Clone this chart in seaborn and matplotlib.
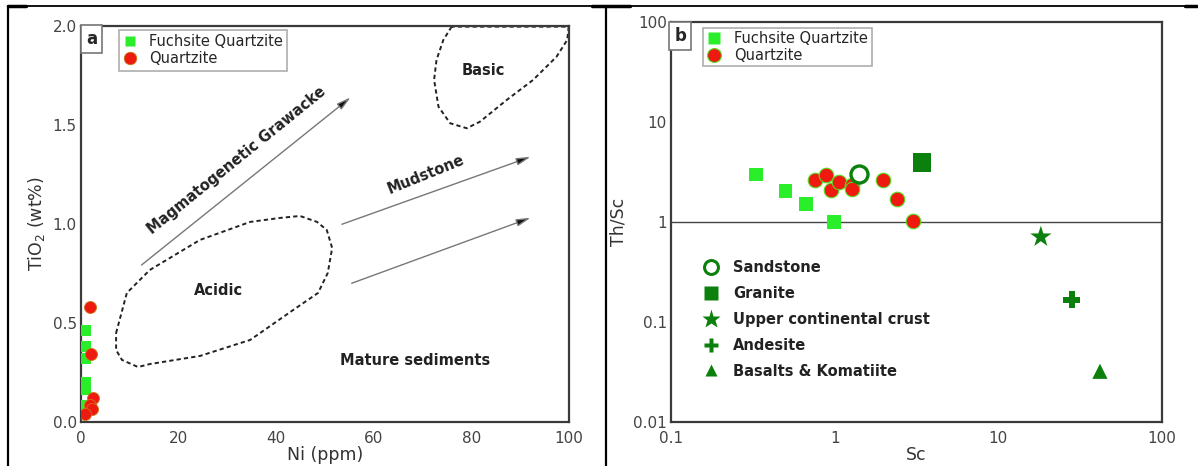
import numpy as np
import pandas as pd
import matplotlib
matplotlib.use("Agg")
import matplotlib.pyplot as plt
from matplotlib.lines import Line2D
import seaborn as sns

sns.set_theme(style="white")
plt.rcParams['font.family'] = ['DejaVu Sans']

# ---------------- data: panel a ----------------
fq_a_ni = [1.0, 1.0, 1.0, 1.0, 1.0, 1.0]
fq_a_ti = [0.46, 0.38, 0.32, 0.20, 0.16, 0.08]
q_a_ni = [1.9, 2.0, 2.4, 1.9, 2.2, 0.9]
q_a_ti = [0.58, 0.34, 0.12, 0.085, 0.063, 0.04]

acidic_ni = [7.2, 9.4, 14.1, 24.4, 34.7, 40.8, 44.9, 48.4, 50.4, 51.5, 50.6, 48.6,
             43.5, 34.7, 24.4, 14.1, 11.7, 8.4, 7.2, 7.2]
acidic_ti = [0.448, 0.650, 0.766, 0.918, 1.009, 1.029, 1.039, 1.009, 0.968, 0.877,
             0.751, 0.650, 0.564, 0.413, 0.332, 0.291, 0.276, 0.312, 0.362, 0.448]
basic_ni = [76.0, 74.3, 72.9, 72.4, 73.3, 75.7, 79.1, 81.8, 87.3, 92.7, 97.5, 99.7,
            100.0, 76.0]
basic_ti = [1.995, 1.928, 1.827, 1.726, 1.591, 1.507, 1.482, 1.515, 1.625, 1.726,
            1.843, 1.928, 1.995, 1.995]

arrow_start_ni = [12.4, 53.5, 55.5]
arrow_start_ti = [0.791, 0.997, 0.699]
arrow_end_ni = [55.3, 92.2, 92.2]
arrow_end_ti = [1.638, 1.338, 1.030]

# ---------------- data: panel b ----------------
fq_b_sc = [0.33, 0.50, 0.67, 0.99]
fq_b_thsc = [3.0, 2.04, 1.51, 1.0]
q_b_sc = [0.76, 0.89, 0.95, 1.06, 1.28, 1.28, 1.97, 2.40, 3.01]
q_b_thsc = [2.63, 2.97, 2.12, 2.53, 2.33, 2.14, 2.61, 1.69, 1.03]

ref_names = ["Sandstone", "Granite", "Upper continental crust", "Andesite",
             "Basalts & Komatiite"]
ref_sc = [1.41, 3.41, 18.2, 28.1, 41.8]
ref_thsc = [3.0, 3.95, 0.71, 0.166, 0.032]
ref_markers = ["o", "s", "*", "P", "^"]

FQ = "#2bee2b"
QR = "#ee1a10"
DG = "#0c800c"
SP = "#3a3a3a"
TK = "#444444"

fig = plt.figure(figsize=(11.98, 4.66), dpi=100)
fig.patch.set_facecolor("white")
axa = fig.add_axes([0.0676, 0.0951, 0.4071, 0.8498])
axb = fig.add_axes([0.5601, 0.0951, 0.4098, 0.8567])

# outer table frame
fig.add_artist(Line2D([8 / 1198, 1197 / 1198], [1 - 5.5 / 466] * 2, color="black", lw=1.3))
fig.add_artist(Line2D([8.3 / 1198] * 2, [0, 1 - 5.5 / 466], color="black", lw=1.6))
fig.add_artist(Line2D([605.7 / 1198] * 2, [0, 1 - 5.5 / 466], color="black", lw=1.6))
fig.add_artist(Line2D([8 / 1198, 26 / 1198], [1 - 5.5 / 466] * 2, color="black", lw=2.5))
fig.add_artist(Line2D([592 / 1198, 630 / 1198], [1 - 5.5 / 466] * 2, color="black", lw=2.5))
fig.add_artist(Line2D([1185 / 1198, 1197 / 1198], [1 - 5.5 / 466] * 2, color="black", lw=2.5))

# ---------------- panel a ----------------
dfa_fq = pd.DataFrame({"Ni": fq_a_ni, "TiO2": fq_a_ti})
dfa_q = pd.DataFrame({"Ni": q_a_ni, "TiO2": q_a_ti})
sns.scatterplot(data=dfa_fq, x="Ni", y="TiO2", ax=axa, marker="s", s=60, color=FQ,
                edgecolor="none", linewidth=0, zorder=3)
sns.scatterplot(data=dfa_q, x="Ni", y="TiO2", ax=axa, marker="o", s=75, color=QR,
                edgecolor="#c8781a", linewidth=0.6, zorder=4)

axa.plot(acidic_ni, acidic_ti, ls=(0, (2.2, 1.6)), color="#222222", lw=1.4, zorder=2)
axa.plot(basic_ni, basic_ti, ls=(0, (2.2, 1.6)), color="#222222", lw=1.4, zorder=2,
         clip_on=False)
for x0, y0, x1, y1 in zip(arrow_start_ni, arrow_start_ti, arrow_end_ni, arrow_end_ti):
    axa.annotate("", xy=(x1, y1), xytext=(x0, y0),
                 arrowprops=dict(arrowstyle="-|>,head_length=0.7,head_width=0.18",
                                 color="#777777", lw=1.0, shrinkA=0, shrinkB=0,
                                 fc="#111111", ec="#777777"))

axa.text(32.0, 1.32, "Magmatogenetic Grawacke", rotation=39, ha="center", va="center",
         fontsize=10.5, fontweight="bold", color="#222222", rotation_mode="anchor")
axa.text(70.7, 1.246, "Mudstone", rotation=22, ha="center", va="center",
         fontsize=10.5, fontweight="bold", color="#222222", rotation_mode="anchor")
axa.text(28.1, 0.665, "Acidic", ha="center", va="center", fontsize=10.5,
         fontweight="bold", color="#222222")
axa.text(82.4, 1.776, "Basic", ha="center", va="center", fontsize=10.5,
         fontweight="bold", color="#222222")
axa.text(68.5, 0.311, "Mature sediments", ha="center", va="center", fontsize=10.5,
         fontweight="bold", color="#222222")

axa.set_xlim(0, 100)
axa.set_ylim(0, 2.0)
axa.set_xticks([0, 20, 40, 60, 80, 100])
axa.set_yticks([0.0, 0.5, 1.0, 1.5, 2.0])
axa.set_yticklabels(["0.0", "0.5", "1.0", "1.5", "2.0"])
axa.set_xlabel("Ni (ppm)", fontsize=12.5, color="#333333", labelpad=0)
axa.set_ylabel("TiO$_2$ (wt%)", fontsize=12.5, color="#333333", labelpad=4)

legend_a = [Line2D([], [], marker="s", ls="none", color=FQ, markersize=7.5, mec="none",
                   label="Fuchsite Quartzite"),
            Line2D([], [], marker="o", ls="none", color=QR, markersize=9, mec="#c8781a",
                   mew=0.6, label="Quartzite")]
leg = axa.legend(handles=legend_a, loc="upper left", bbox_to_anchor=(0.077, 0.99),
                 frameon=True, fancybox=False, fontsize=10.5, handlelength=1.0,
                 handletextpad=0.8, borderpad=0.3, labelspacing=0.15,
                 borderaxespad=0.0)
leg.get_frame().set_edgecolor("#999999")
leg.get_frame().set_linewidth(1.2)
axa.text(0.0105, 0.988, "a", transform=axa.transAxes, ha="left", va="top",
         fontsize=12, fontweight="bold",
         bbox=dict(boxstyle="square,pad=0.3", fc="white", ec="#777777", lw=1.2))

# ---------------- panel b ----------------
dfb_fq = pd.DataFrame({"Sc": fq_b_sc, "ThSc": fq_b_thsc})
dfb_q = pd.DataFrame({"Sc": q_b_sc, "ThSc": q_b_thsc})
axb.set_xscale("log")
axb.set_yscale("log")
axb.axhline(1.0, color="#444444", lw=1.0, zorder=1)
sns.scatterplot(data=dfb_fq, x="Sc", y="ThSc", ax=axb, marker="s", s=95, color=FQ,
                edgecolor="none", linewidth=0, zorder=3)
sns.scatterplot(data=dfb_q, x="Sc", y="ThSc", ax=axb, marker="o", s=110, color=QR,
                edgecolor="#55dd22", linewidth=0.8, zorder=4)

ref_df = pd.DataFrame({"Sc": ref_sc, "ThSc": ref_thsc, "Type": ref_names})
for name, mk in zip(ref_names, ref_markers):
    sub = ref_df[ref_df["Type"] == name]
    if mk == "o":
        sns.scatterplot(data=sub, x="Sc", y="ThSc", ax=axb, marker="o", s=150,
                        facecolor="white", edgecolor=DG, linewidth=2.4, zorder=5)
    elif mk == "s":
        sns.scatterplot(data=sub, x="Sc", y="ThSc", ax=axb, marker="s", s=170,
                        color=DG, edgecolor="none", linewidth=0, zorder=5)
    elif mk == "*":
        sns.scatterplot(data=sub, x="Sc", y="ThSc", ax=axb, marker="*", s=260,
                        color=DG, edgecolor="none", linewidth=0, zorder=5)
    elif mk == "P":
        sns.scatterplot(data=sub, x="Sc", y="ThSc", ax=axb, marker="P", s=150,
                        color=DG, edgecolor="none", linewidth=0, zorder=5)
    else:
        sns.scatterplot(data=sub, x="Sc", y="ThSc", ax=axb, marker="^", s=120,
                        color=DG, edgecolor="none", linewidth=0, zorder=5)

axb.set_xlim(0.1, 100)
axb.set_ylim(0.01, 100)
axb.set_xticks([0.1, 1, 10, 100])
axb.set_xticklabels(["0.1", "1", "10", "100"])
axb.set_yticks([0.01, 0.1, 1, 10, 100])
axb.set_yticklabels(["0.01", "0.1", "1", "10", "100"])
axb.minorticks_off()
axb.set_xlabel("Sc", fontsize=12.5, color="#333333", labelpad=0)
axb.set_ylabel("Th/Sc", fontsize=12.5, color="#333333", labelpad=4)

legend_b = [Line2D([], [], marker="s", ls="none", color=FQ, markersize=8.5, mec="none",
                   label="Fuchsite Quartzite"),
            Line2D([], [], marker="o", ls="none", color=QR, markersize=10, mec="#55dd22",
                   mew=0.8, label="Quartzite")]
legb = axb.legend(handles=legend_b, loc="upper left", bbox_to_anchor=(0.065, 0.987),
                  frameon=True, fancybox=False, fontsize=10.5, handlelength=1.0,
                  handletextpad=0.9, borderpad=0.25, labelspacing=0.1,
                  borderaxespad=0.0)
legb.get_frame().set_edgecolor("#999999")
legb.get_frame().set_linewidth(1.2)
axb.add_artist(legb)

ref_handles = [
    Line2D([], [], marker="o", ls="none", mfc="white", mec=DG, mew=2.2, markersize=10),
    Line2D([], [], marker="s", ls="none", color=DG, mec="none", markersize=10),
    Line2D([], [], marker="*", ls="none", color=DG, mec="none", markersize=14),
    Line2D([], [], marker="P", ls="none", color=DG, mec="none", markersize=10),
    Line2D([], [], marker="^", ls="none", color=DG, mec="none", markersize=9),
]
legr = axb.legend(handles=ref_handles, labels=ref_names, loc="upper left",
                  bbox_to_anchor=(0.055, 0.42), frameon=False, handlelength=1.0,
                  handletextpad=1.0, labelspacing=0.75, borderaxespad=0.0,
                  prop=dict(size=10.5, weight="bold"))
for t in legr.get_texts():
    t.set_color("#222222")

axb.text(0.007, 0.988, "b", transform=axb.transAxes, ha="left", va="top",
         fontsize=12, fontweight="bold",
         bbox=dict(boxstyle="square,pad=0.3", fc="white", ec="#777777", lw=1.2))

for ax in (axa, axb):
    for sp in ax.spines.values():
        sp.set_color(SP)
        sp.set_linewidth(1.6)
    ax.tick_params(axis="both", which="both", length=0, labelsize=11,
                   labelcolor=TK)
    ax.tick_params(axis="x", pad=7)
    ax.tick_params(axis="y", pad=3)
    ax.set_facecolor("white")

fig.savefig("out.png", dpi=100, facecolor="white")
